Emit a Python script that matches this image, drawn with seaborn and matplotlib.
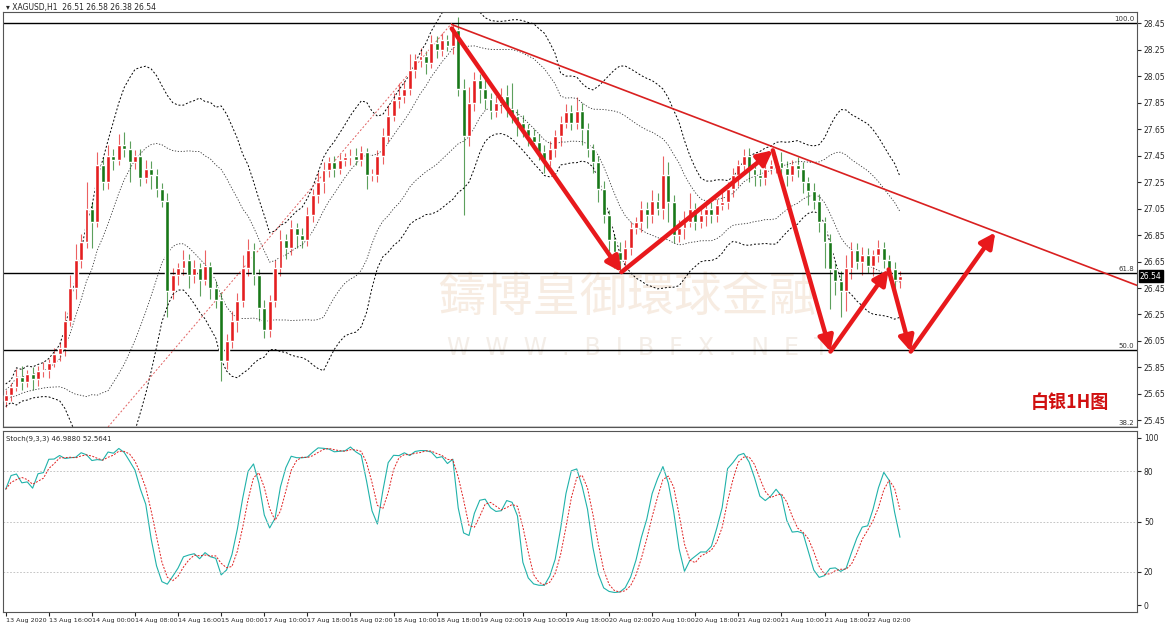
import numpy as np
import pandas as pd
import matplotlib
matplotlib.use("Agg")
import matplotlib.pyplot as plt
import seaborn as sns

sns.set_style("white")
plt.rcParams['font.family'] = ['DejaVu Sans', 'Noto Sans CJK SC']

# slotkoersen per uur (XAGUSD H1)
closes = [25.64, 25.70, 25.78, 25.74, 25.80, 25.76, 25.82, 25.83, 25.88, 25.95,
          26.00, 26.20, 26.45, 26.66, 26.80, 27.05, 26.95, 27.38, 27.25, 27.45,
          27.42, 27.53, 27.50, 27.40, 27.45, 27.28, 27.35, 27.30, 27.20, 27.11,
          26.43, 26.55, 26.60, 26.66, 26.55, 26.60, 26.51, 26.62, 26.45, 26.36,
          25.90, 26.05, 26.20, 26.35, 26.60, 26.74, 26.55, 26.30, 26.13, 26.35,
          26.60, 26.81, 26.75, 26.90, 26.85, 26.81, 27.00, 27.15, 27.25, 27.34,
          27.40, 27.35, 27.42, 27.44, 27.45, 27.42, 27.48, 27.30, 27.30, 27.45,
          27.60, 27.75, 27.87, 27.90, 27.95, 28.10, 28.17, 28.20, 28.15, 28.30,
          28.25, 28.32, 28.28, 28.40, 27.95, 27.60, 27.85, 28.02, 27.95, 27.88,
          27.79, 27.85, 27.90, 27.80, 27.75, 27.70, 27.65, 27.60, 27.55, 27.48,
          27.42, 27.50, 27.60, 27.70, 27.78, 27.70, 27.79, 27.65, 27.50, 27.40,
          27.20, 27.00, 26.81, 26.72, 26.66, 26.75, 26.90, 26.95, 27.05, 27.00,
          27.11, 27.05, 27.30, 27.10, 26.85, 26.90, 26.95, 27.05, 26.95, 27.00,
          27.05, 27.00, 27.08, 27.10, 27.20, 27.30, 27.38, 27.45, 27.35, 27.30,
          27.28, 27.35, 27.38, 27.40, 27.36, 27.30, 27.38, 27.35, 27.25, 27.18,
          27.11, 26.95, 26.80, 26.59, 26.50, 26.43, 26.60, 26.74, 26.65, 26.70,
          26.62, 26.70, 26.75, 26.66, 26.59, 26.51, 26.54]
first_open = 25.60
# lonten in centen (boven / onder)
wick_up = [4, 3, 6, 8, 3, 5, 4, 6, 3, 5, 4, 8, 10, 12, 6, 20, 5, 10, 6, 8,
           5, 8, 10, 6, 4, 5, 7, 6, 5, 4, 6, 5, 4, 8, 5, 6, 4, 12, 3, 5,
           6, 5, 8, 6, 10, 8, 5, 4, 6, 5, 6, 8, 5, 6, 4, 5, 6, 5, 8, 6,
           4, 5, 4, 3, 5, 6, 4, 3, 5, 4, 6, 8, 5, 10, 6, 12, 5, 6, 4, 6,
           5, 6, 4, 5, 10, 8, 12, 6, 5, 8, 4, 5, 6, 8, 20, 5, 6, 4, 5, 6,
           5, 6, 4, 5, 6, 5, 10, 6, 5, 4, 5, 6, 4, 5, 8, 6, 5, 4, 6, 5,
           8, 6, 15, 10, 5, 6, 8, 12, 4, 5, 6, 5, 4, 8, 5, 6, 4, 5, 6, 4,
           5, 6, 4, 5, 8, 5, 4, 6, 5, 4, 6, 5, 4, 6, 5, 8, 10, 6, 5, 6,
           5, 4, 6, 5, 4, 6, 4]
wick_dn = [5, 4, 3, 6, 4, 8, 5, 4, 6, 3, 5, 6, 4, 8, 6, 5, 20, 4, 6, 5,
           8, 4, 6, 15, 5, 6, 4, 10, 6, 5, 20, 6, 8, 5, 10, 6, 12, 4, 8, 6,
           15, 6, 5, 8, 4, 6, 8, 10, 6, 5, 4, 6, 8, 5, 10, 6, 4, 5, 6, 8,
           5, 6, 4, 5, 6, 4, 5, 10, 4, 5, 6, 5, 4, 6, 5, 4, 6, 5, 8, 4,
           6, 5, 4, 6, 5, 60, 8, 6, 10, 8, 6, 5, 8, 6, 5, 10, 6, 8, 5, 6,
           10, 5, 6, 8, 4, 6, 5, 12, 6, 8, 10, 6, 8, 12, 10, 6, 5, 4, 8, 10,
           6, 5, 8, 15, 6, 5, 8, 4, 6, 5, 8, 6, 5, 4, 5, 6, 8, 5, 10, 8,
           6, 5, 4, 6, 5, 8, 4, 6, 8, 10, 6, 8, 20, 30, 10, 20, 15, 8, 6, 10,
           6, 8, 5, 6, 8, 10, 6]

tijd_labels = ["13 Aug 2020", "13 Aug 16:00", "14 Aug 00:00", "14 Aug 08:00", "14 Aug 16:00",
               "15 Aug 00:00", "17 Aug 10:00", "17 Aug 18:00", "18 Aug 02:00", "18 Aug 10:00",
               "18 Aug 18:00", "19 Aug 02:00", "19 Aug 10:00", "19 Aug 18:00", "20 Aug 02:00",
               "20 Aug 10:00", "20 Aug 18:00", "21 Aug 02:00", "21 Aug 10:00", "21 Aug 18:00",
               "22 Aug 02:00"]
prijs_ticks = [28.45, 28.25, 28.05, 27.85, 27.65, 27.45, 27.25, 27.05, 26.85, 26.65,
               26.45, 26.25, 26.05, 25.85, 25.65, 25.45]
fibo_hoog, fibo_laag = 28.45, 23.51
fibo_niveaus = [100.0, 61.8, 50.0, 38.2]
# pijlen: (bar, prijs)
pijl_punten = [(82.8, 28.41), (114.3, 26.57), (142.4, 27.49), (153.1, 25.97),
               (163.9, 26.59), (168.0, 25.97), (183.7, 26.87)]
trend_lijn = [(82.8, 28.44), (210.0, 26.47)]

# dataframe opbouwen
df = pd.DataFrame({"close": closes})
df["open"] = [first_open] + closes[:-1]
df["high"] = df[["open", "close"]].max(axis=1) + np.array(wick_up) / 100
df["low"] = df[["open", "close"]].min(axis=1) - np.array(wick_dn) / 100
df["bar"] = range(len(df))

mid = df.close.rolling(20, min_periods=1).mean()
sd = df.close.rolling(20, min_periods=2).std().bfill()
hh = df.high.rolling(9, min_periods=1).max()
ll = df.low.rolling(9, min_periods=1).min()
raw_k = (df.close - ll).rolling(3, min_periods=1).sum() / (hh - ll).rolling(3, min_periods=1).sum() * 100
df["k"] = raw_k
df["d"] = raw_k.rolling(3, min_periods=1).mean()

fig = plt.figure(figsize=(11.7, 6.27), dpi=100)
W, H = 1170, 627
ax = fig.add_axes([3 / W, 1 - 427 / H, 1134 / W, 415 / H])
ax2 = fig.add_axes([3 / W, 1 - 612 / H, 1134 / W, 181 / H])

# watermerk
ax.text(0.55, 0.31, "鑄博皇御環球金融", transform=ax.transAxes, fontsize=34, color="#f7ece2",
        ha="center", va="center", family=["Noto Sans CJK TC"], zorder=0)
ax.text(0.56, 0.19, "W  W  W  .  B  I  B  F  X  .  N  E  T", transform=ax.transAxes, fontsize=17,
        color="#f3ede7", ha="center", va="center", zorder=0)

# candles
rood, groen = "#e41e20", "#187818"
kleuren = [rood if c >= o else groen for o, c in zip(df.open, df.close)]
ax.vlines(df.bar, df.low, df.high, colors=kleuren, lw=0.8, alpha=0.7, zorder=2)
ax.bar(df.bar, (df.close - df.open).abs().clip(lower=0.01), bottom=df[["open", "close"]].min(axis=1),
       width=0.72, color=kleuren, zorder=3)

# bollinger
sns.lineplot(x=df.bar, y=mid + 2 * sd, ax=ax, color="black", lw=0.7, linestyle=(0, (2, 2)))
sns.lineplot(x=df.bar, y=mid - 2 * sd, ax=ax, color="black", lw=0.7, linestyle=(0, (2, 2)))
sns.lineplot(x=df.bar, y=mid + sd, ax=ax, color="#333333", lw=0.6, linestyle=(0, (1.5, 2)))
sns.lineplot(x=df.bar, y=mid - sd, ax=ax, color="#333333", lw=0.6, linestyle=(0, (1.5, 2)))

# fibonacci
for lvl in fibo_niveaus:
    p = fibo_laag + (fibo_hoog - fibo_laag) * lvl / 100
    ax.axhline(p, color="black", lw=1.0)
    ax.text(209.5, p + 0.01, f"{lvl:.1f}", fontsize=5, ha="right", va="bottom", color="#333333")
ax.plot([19, 82.8], [25.40, 28.45], color="#e06060", lw=0.7, linestyle=(0, (2, 2)))

# trendlijn en pijlen
ax.plot([p[0] for p in trend_lijn], [p[1] for p in trend_lijn], color="#d92020", lw=1.2)
for a, b in zip(pijl_punten[:-1], pijl_punten[1:]):
    ax.annotate("", xy=b, xytext=a,
                arrowprops=dict(arrowstyle="-|>,head_length=0.9,head_width=0.45", color="#e8191c",
                                lw=3.2, shrinkA=0, shrinkB=0))

ax.text(0.975, 0.035, "白银1H图", transform=ax.transAxes, fontsize=13, fontweight="bold",
        color="#d01010", ha="right", va="bottom", family=["Noto Sans CJK SC"])
ax.text(0.003, 1.0, "▾ XAGUSD,H1  26.51 26.58 26.38 26.54", transform=ax.transAxes, fontsize=5.5,
        ha="left", va="bottom")
ax.text(210.5, 26.54, "26.54", fontsize=5.5, color="white", va="center", ha="left",
        bbox=dict(boxstyle="square,pad=0.15", fc="black", ec="black"), clip_on=False)

ax.set_xlim(-0.5, 210)
ax.set_ylim(25.40, 28.535)
ax.yaxis.tick_right()
ax.set_yticks(prijs_ticks)
ax.tick_params(axis="y", labelsize=5.5, length=3, pad=2, direction="out", right=True)
ax.set_xticks([])
ax.set_xlabel("")
ax.set_ylabel("")

# stochastic
sns.lineplot(x=df.bar, y=df.k, ax=ax2, color="#20b2aa", lw=0.8)
sns.lineplot(x=df.bar, y=df.d, ax=ax2, color="#e02020", lw=0.7, linestyle=(0, (2, 1.5)))
for lvl in [80, 50, 20]:
    ax2.axhline(lvl, color="#bbbbbb", lw=0.6, linestyle=(0, (2, 2)))
ax2.text(0.003, 0.975, "Stoch(9,3,3) 46.9880 52.5641", transform=ax2.transAxes, fontsize=5,
         ha="left", va="top")
ax2.set_xlim(-0.5, 210)
ax2.set_ylim(-4, 104)
ax2.yaxis.tick_right()
ax2.set_yticks([100, 80, 50, 20, 0])
ax2.tick_params(axis="y", labelsize=5.5, length=3, pad=2, right=True)
ax2.set_xticks(range(0, 8 * len(tijd_labels), 8))
ax2.set_xticklabels(tijd_labels, fontsize=4.6, ha="left")
ax2.tick_params(axis="x", length=3, pad=1, bottom=True)
ax2.set_xlabel("")
ax2.set_ylabel("")

for a in (ax, ax2):
    for s in a.spines.values():
        s.set_color("#555555")
        s.set_linewidth(0.8)

fig.savefig("out.png", dpi=100)
